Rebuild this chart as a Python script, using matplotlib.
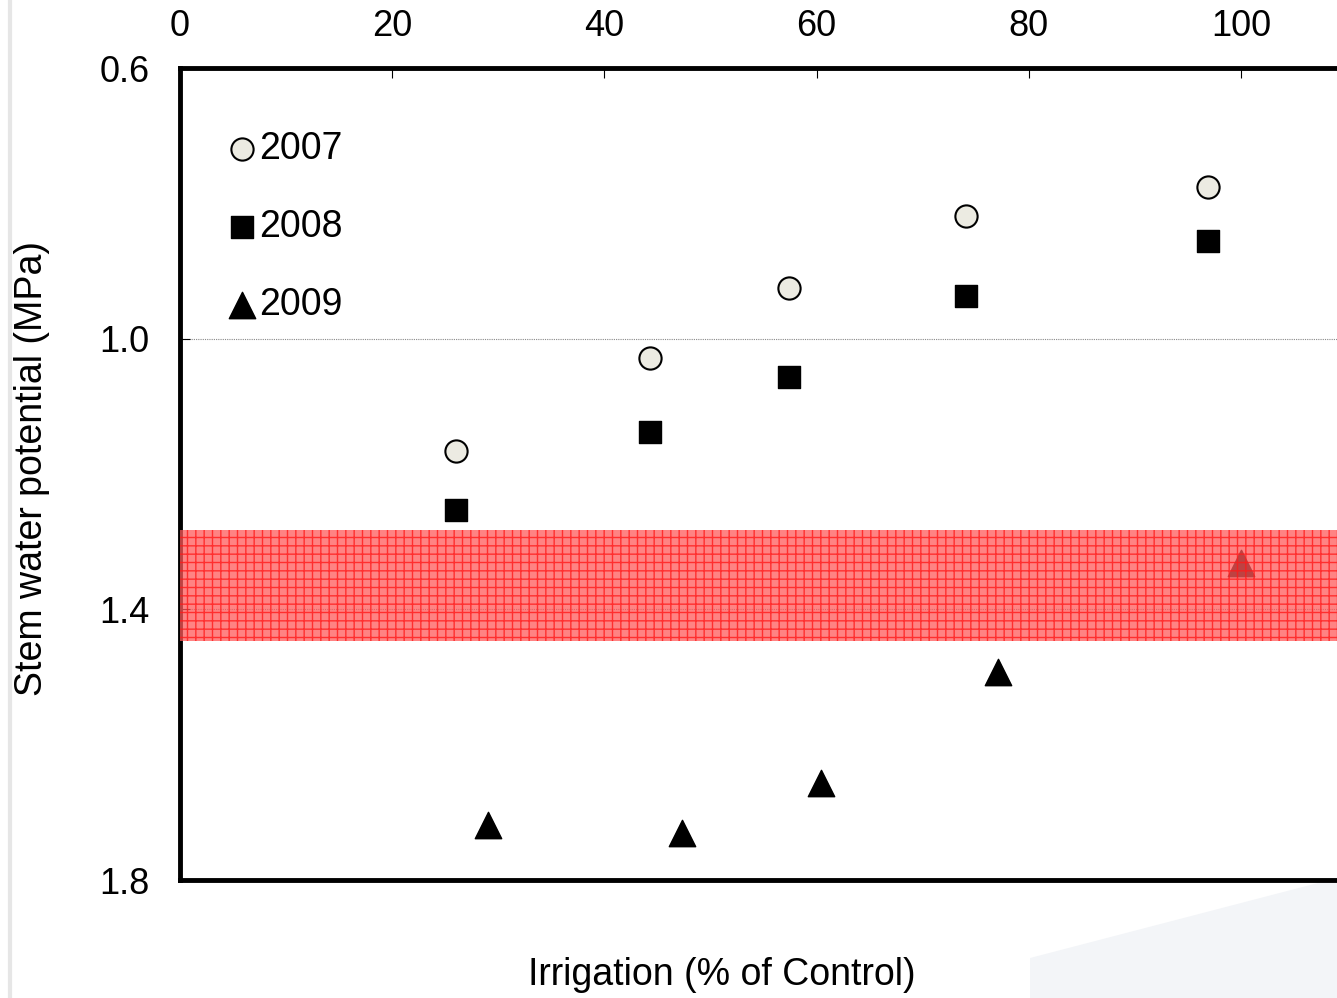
import matplotlib
matplotlib.use("Agg")
import matplotlib.pyplot as plt
from matplotlib.patches import Polygon

plt.rcParams['font.family'] = ['Liberation Sans', 'DejaVu Sans']

# Data
x2007 = [26.0, 44.3, 57.4, 74.1, 96.9]
y2007 = [1.166, 1.029, 0.925, 0.819, 0.776]
x2008 = [26.0, 44.3, 57.4, 74.1, 96.9]
y2008 = [1.253, 1.138, 1.057, 0.937, 0.856]
x2009 = [29.0, 47.3, 60.4, 77.1, 100.0]
y2009 = [1.719, 1.731, 1.656, 1.492, 1.332]
band_range = [1.283, 1.447]
xticks = [0, 20, 40, 60, 80, 100]
yticks = [0.6, 1.0, 1.4, 1.8]

fig = plt.figure(figsize=(13.37, 9.98), dpi=100)
# faint decorations
fig.add_artist(plt.Line2D([10/1337, 10/1337], [0, 1], transform=fig.transFigure,
                          color='#e6e6e6', lw=3))
wm = Polygon([[1030/1337, 0], [1030/1337, 40/998], [1337/1337, 120/998], [1, 0]],
             closed=True, transform=fig.transFigure, facecolor='#f3f5f8',
             edgecolor='none', zorder=0)
fig.add_artist(wm)

ax = fig.add_axes([180/1337, 1-880/998, 1-180/1337, (880-68)/998])
ax.set_facecolor('none')
ax.set_xlim(0, 109.05)
ax.set_ylim(1.8, 0.6)

for yv in [1.0, 1.4]:
    ax.axhline(yv, color='#888888', lw=0.8, ls=(0, (1, 1)), zorder=1)

ax.scatter(x2007, y2007, s=16**2, marker='o', facecolor='#ecebe2', edgecolor='black',
           linewidth=1.5, zorder=3, label='2007')
ax.scatter(x2008, y2008, s=16**2, marker='s', facecolor='black', edgecolor='black',
           linewidth=1, zorder=3, label='2008')
ax.scatter(x2009, y2009, s=19**2, marker='^', facecolor='black', edgecolor='black',
           linewidth=1, zorder=3, label='2009')

ax.axhspan(band_range[0], band_range[1], facecolor=(1, 0.35, 0.35, 0.75),
           edgecolor=(1, 0.1, 0.1, 0.8), hatch='++', linewidth=0, zorder=4)

ax.xaxis.tick_top()
ax.set_xticks(xticks)
ax.set_yticks(yticks)
ax.set_yticklabels([f'{v:.1f}' for v in yticks])
ax.tick_params(axis='both', labelsize=26, direction='in', length=7, width=0.8)
ax.tick_params(axis='x', pad=17)
ax.tick_params(axis='y', pad=22)

for side in ['top', 'left', 'bottom']:
    ax.spines[side].set_linewidth(3.5)
ax.spines['right'].set_visible(False)

leg = ax.legend(loc='upper left', bbox_to_anchor=(0.034, 0.922), frameon=False,
                fontsize=27, handletextpad=-0.15, labelspacing=1.12,
                handlelength=1.2, borderaxespad=0, borderpad=0)

fig.text(722/1337, 1-975/998, 'Irrigation (% of Control)', ha='center', va='center',
         fontsize=27)
fig.text(32/1337, 1-468/998, 'Stem water potential (MPa)', ha='center', va='center',
         rotation=90, fontsize=27)

fig.savefig('out.png', dpi=100)
